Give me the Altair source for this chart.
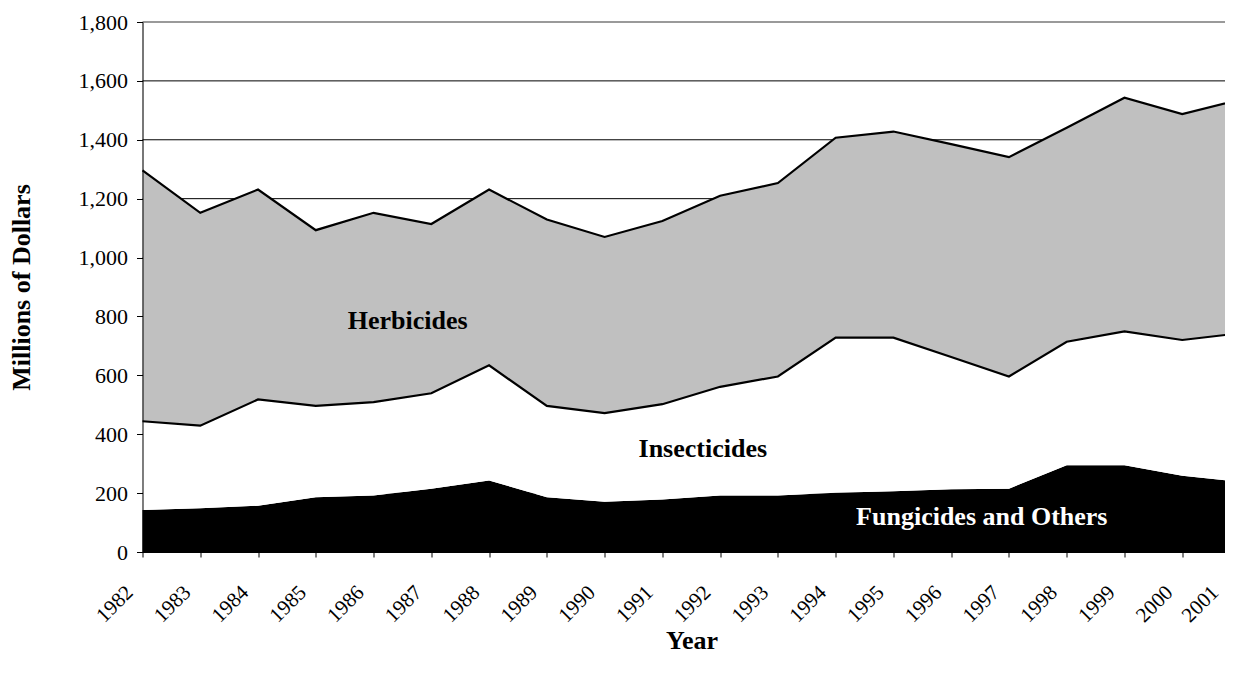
import altair as alt
import pandas as pd

years = list(range(1982, 2002))
fungicides = [143, 149, 157, 186, 192, 215, 243, 186, 171, 178, 192, 192, 201, 206, 213, 215, 295, 295, 259, 238]
insecticides = [301, 280, 361, 310, 317, 324, 391, 310, 301, 324, 369, 404, 527, 522, 449, 381, 419, 454, 461, 505]
herbicides = [852, 723, 713, 597, 643, 575, 597, 633, 598, 622, 649, 657, 679, 700, 723, 745, 727, 794, 767, 793]

series_names = ["Fungicides and Others", "Insecticides", "Herbicides"]
series_colors = ["#000000", "#FFFFFF", "#C0C0C0"]

y_ticks = [0, 200, 400, 600, 800, 1000, 1200, 1400, 1600, 1800]
grid_values = [200, 400, 600, 800, 1000, 1200, 1400, 1600]

label_text = ["Herbicides", "Insecticides", "Fungicides and Others"]
label_year = [1986.59, 1991.7, 1996.53]
label_value = [757, 323, 92]
label_color = ["#000000", "#000000", "#FFFFFF"]

rows = []
for i, y in enumerate(years):
    for k, (name, vals) in enumerate(zip(series_names, [fungicides, insecticides, herbicides])):
        rows.append({"year": y, "series": name, "order": k, "value": vals[i]})
df = pd.DataFrame(rows)

labels_df = pd.DataFrame({"text": label_text, "year": label_year, "value": label_value, "tc": label_color})

FONT = "Liberation Serif"

x_scale = alt.Scale(domain=[1982, 2001], nice=False, zero=False, padding=0)
y_scale = alt.Scale(domain=[0, 1800], nice=False)

x_axis = alt.Axis(
    values=years, format="d", labelAngle=315, labelAlign="right", labelBaseline="middle",
    labelPadding=32,
    labelOffset={"condition": {"test": "datum.value == 2001", "value": -25}, "value": -13},
    labelFont=FONT, labelFontSize=21, labelColor="black",
    labelOverlap=False, labelFlush=False, labelBound=False,
    tickSize=5, tickColor="black", domainColor="black", grid=False,
    title="Year", titleFont=FONT, titleFontSize=26, titleFontWeight="bold", titleColor="black",
    titleX=549, titleY=88, titleBaseline="middle", titleAlign="center", zindex=1,
)
y_axis = alt.Axis(
    values=y_ticks, format=",d", labelFont=FONT, labelFontSize=22,
    labelColor="black", labelPadding=9, tickSize=6, tickColor="black", domainColor="black",
    grid=False,
    title="Millions of Dollars", titleFont=FONT, titleFontSize=26, titleFontWeight="bold",
    titleColor="black", titleX=-121, titleY=265, titleAngle=270, titleAlign="center",
    titleBaseline="middle", zindex=1,
)

grid = alt.Chart(pd.DataFrame({"v": grid_values})).mark_rule(color="black", strokeWidth=1).encode(
    y=alt.Y("v:Q", scale=y_scale, axis=y_axis)
)

base = alt.Chart(df).transform_stack(
    stack="value", groupby=["year"], sort=[alt.SortField("order", order="ascending")], as_=["lo", "hi"]
)

areas = base.mark_area(interpolate="linear").encode(
    x=alt.X("year:Q", scale=x_scale, axis=x_axis),
    y=alt.Y("hi:Q", scale=y_scale),
    y2="lo:Q",
    color=alt.Color("series:N", scale=alt.Scale(domain=series_names, range=series_colors), legend=None),
    order=alt.Order("order:Q"),
)

lines = base.transform_filter(alt.datum.order > 0).mark_line(color="black", strokeWidth=2.2).encode(
    x=alt.X("year:Q", scale=x_scale),
    y=alt.Y("hi:Q", scale=y_scale),
    detail="series:N",
)

top_rule = alt.Chart(pd.DataFrame({"v": [1800]})).mark_rule(color="#9A9A9A", strokeWidth=2).encode(
    y=alt.Y("v:Q", scale=y_scale)
)

texts = alt.Chart(labels_df).mark_text(
    font=FONT, fontSize=26, fontWeight="bold", align="center", baseline="alphabetic"
).encode(
    x=alt.X("year:Q", scale=x_scale),
    y=alt.Y("value:Q", scale=y_scale),
    text="text:N",
    color=alt.Color("tc:N", scale=None),
)

# the reference picture is cut at its right edge, just before the 2001 tick:
# a negative right padding crops the drawing the same way
chart = alt.layer(grid, areas, lines, top_rule, texts).properties(
    width=1097.5, height=530,
    autosize=alt.AutoSizeParams(type="none"),
    padding={"left": 134.5, "top": 14, "right": -15, "bottom": 110},
).configure_view(stroke=None).configure(background="white")

chart.save("out.html", embed_options={"renderer": "svg", "actions": False})
